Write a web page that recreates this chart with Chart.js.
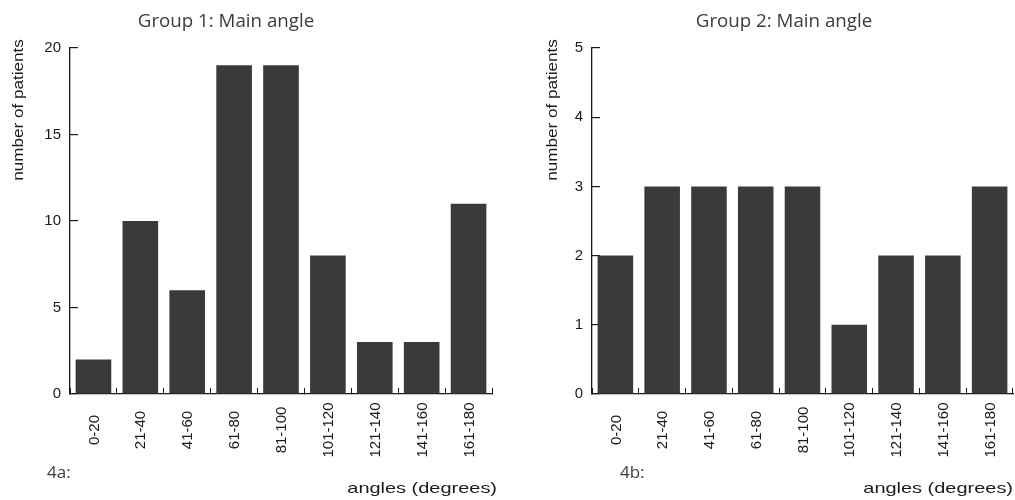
<!DOCTYPE html>
<html>
<head>
<meta charset="utf-8">
<script src="https://cdn.jsdelivr.net/npm/chart.js@4.4.1/dist/chart.umd.min.js"></script>
<style>
  html, body { margin: 0; padding: 0; background: #fff; }
  .panel { position: absolute; top: 0; height: 500px; }
  #p1 { left: 0; width: 507px; }
  #p2 { left: 507px; width: 508px; }
</style>
</head>
<body>
<div class="panel" id="p1"><canvas id="c1"></canvas></div>
<div class="panel" id="p2"><canvas id="c2"></canvas></div>
<script>
// angle bins shared by both figures
var angleBins = ['0-20', '21-40', '41-60', '61-80', '81-100', '101-120', '121-140', '141-160', '161-180'];

// patient counts per bin
var group1Counts = [2, 10, 6, 19, 19, 8, 3, 3, 11];
var group2Counts = [2, 3, 3, 3, 3, 1, 2, 2, 3];

var group1Ticks = [0, 5, 10, 15, 20];
var group2Ticks = [0, 1, 2, 3, 4, 5];

var INK = '#1a1a1a';
var SANS = '"Liberation Sans", Arial, sans-serif';
var HUMAN = '"Open Sans", "Noto Sans", sans-serif';

function drawText(ctx, text, x, y, font, align, baseline, sx, rot, color) {
  ctx.save();
  ctx.translate(x, y);
  if (rot) ctx.rotate(rot);
  ctx.scale(sx, 1);
  ctx.font = font;
  ctx.fillStyle = color || INK;
  ctx.textAlign = align;
  ctx.textBaseline = baseline;
  ctx.fillText(text, 0, 0);
  ctx.restore();
}

// Figure texts: title, axis titles, panel tag and centred vertical category labels.
var figText = {
  id: 'figText',
  afterDraw: function (chart, args, o) {
    var ctx = chart.ctx;
    var xs = chart.scales.x;
    drawText(ctx, o.title, o.titleX, 27, '18px ' + HUMAN, 'center', 'alphabetic', 1.04, 0, '#3c3c3c');
    drawText(ctx, 'number of patients', o.yTitleX, 110, '14px ' + SANS, 'center', 'middle', 1.22, -Math.PI / 2);
    drawText(ctx, o.tag, o.tagX, 478, '17px ' + HUMAN, 'left', 'alphabetic', 1, 0, '#3c3c3c');
    drawText(ctx, 'angles (degrees)', o.xTitleX, 493, '15px ' + SANS, 'right', 'alphabetic', 1.33, 0);
    chart.data.labels.forEach(function (lab, i) {
      var px = xs.getPixelForValue(i);
      drawText(ctx, lab, px + 1, 430, '15px ' + SANS, 'center', 'middle', 1, -Math.PI / 2);
    });
  }
};

function makeChart(id, counts, yTicks, layout, text) {
  var yMax = yTicks[yTicks.length - 1];
  return new Chart(document.getElementById(id), {
    type: 'bar',
    data: {
      labels: angleBins,
      datasets: [{
        data: counts,
        backgroundColor: '#3a3a3a',
        borderWidth: 0,
        barPercentage: 0.76,
        categoryPercentage: 1.0
      }]
    },
    options: {
      responsive: true,
      maintainAspectRatio: false,
      animation: false,
      layout: { padding: { top: 48, right: layout.right, bottom: 0, left: 0 } },
      plugins: {
        legend: { display: false },
        tooltip: { enabled: false },
        figText: text
      },
      scales: {
        x: {
          afterFit: function (s) { s.height = 106; },
          grid: { display: true, drawOnChartArea: false, offset: true, tickLength: -6, color: INK, lineWidth: 1 },
          border: { display: true, color: INK, width: 1.3 },
          ticks: { display: false }
        },
        y: {
          min: 0,
          max: yMax,
          afterFit: function (s) { s.width = layout.yWidth; },
          afterBuildTicks: function (s) { s.ticks = yTicks.map(function (v) { return { value: v }; }); },
          grid: { display: true, drawOnChartArea: false, tickLength: -8, color: INK, lineWidth: 1.2 },
          border: { display: true, color: INK, width: 1.3 },
          ticks: { color: INK, padding: 17, font: { family: SANS, size: 15 } }
        }
      }
    },
    plugins: [figText]
  });
}

makeChart('c1', group1Counts, group1Ticks, { right: 15, yWidth: 70 },
  { title: 'Group 1: Main angle', titleX: 226, yTitleX: 19, tag: '4a:', tagX: 47, xTitleX: 497 });
makeChart('c2', group2Counts, group2Ticks, { right: 2, yWidth: 85 },
  { title: 'Group 2: Main angle', titleX: 277, yTitleX: 46, tag: '4b:', tagX: 113, xTitleX: 506 });
</script>
</body>
</html>
